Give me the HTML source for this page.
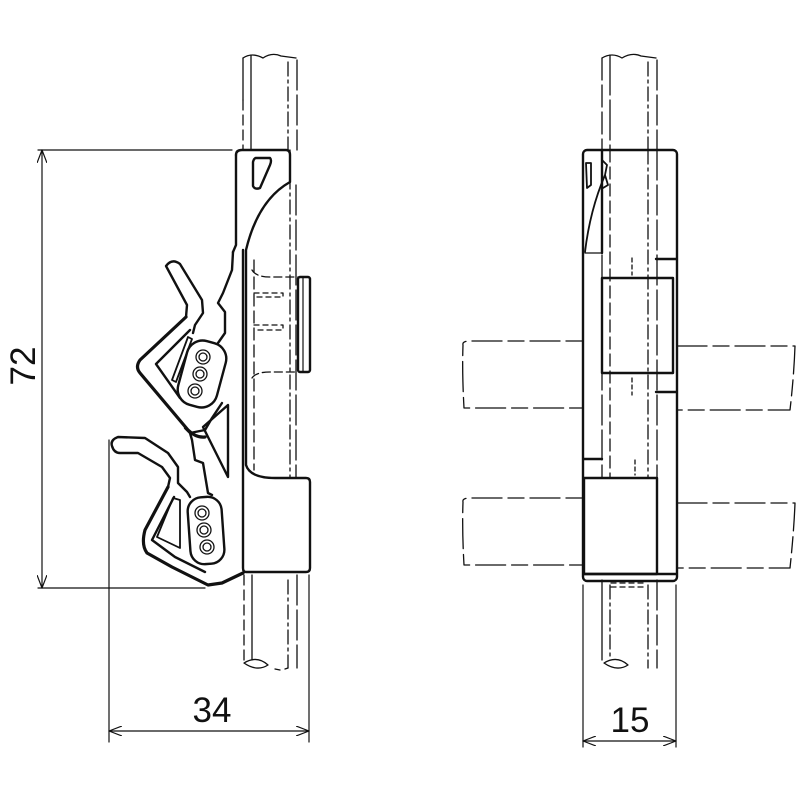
<!DOCTYPE html>
<html><head><meta charset="utf-8"><style>html,body{margin:0;padding:0;background:#fff}svg{display:block}</style></head>
<body>
<svg width="800" height="800" viewBox="0 0 800 800" xmlns="http://www.w3.org/2000/svg" fill="none" stroke="#111" stroke-linecap="round" stroke-linejoin="round">
<defs>
<marker id="ar" markerWidth="14" markerHeight="10" refX="13" refY="5" orient="auto-start-reverse" markerUnits="userSpaceOnUse"><path d="M0,0 L13,5 L0,10" stroke="#111" stroke-width="1.2" fill="none"/></marker>
</defs>
<!-- LEFT RAIL -->
<g stroke-width="1.3">
<path d="M243,58 Q252,52 263,58 Q272,52 281,56 L296,58"/>
<line x1="243" y1="58" x2="243" y2="100"/><line x1="243" y1="100" x2="243" y2="150" stroke-dasharray="10,5"/>
<line x1="251" y1="55" x2="251" y2="150"/>
<line x1="288" y1="62" x2="288" y2="150" stroke-dasharray="14,4,3,4"/>
<line x1="297" y1="60" x2="297" y2="150" stroke-dasharray="30,5"/>
<line x1="244" y1="575" x2="244" y2="660" stroke-dasharray="10,5"/>
<line x1="252" y1="575" x2="252" y2="660"/>
<line x1="288" y1="580" x2="288" y2="668" stroke-dasharray="14,4,3,4"/>
<line x1="297" y1="575" x2="297" y2="668" stroke-dasharray="30,5"/>
<path d="M244,663 Q257,655 268,665 Q257,672 244,663"/>
<path d="M275,669 L280,670 M285,669 L288,668" />
<line x1="254" y1="260" x2="254" y2="470" stroke-dasharray="12,5"/>
<line x1="290" y1="150" x2="290" y2="478" stroke-dasharray="14,4,3,4"/>
<line x1="296" y1="185" x2="296" y2="478" stroke-dasharray="30,5"/>
<path d="M252,270 Q256,277 270,277 L298,277" stroke-dasharray="8,4"/>
<path d="M252,378 Q256,372 270,372 L298,372" stroke-dasharray="8,4"/>
<path d="M254,293 H283 V297 H254 M254,325 H283 V330 H254" stroke-dasharray="5,4"/>
</g>
<!-- LEFT CLIP BODY -->
<g stroke-width="2.4">
<path d="M236,155 Q236,150 242,150 H286 Q290,150 290,155 V182 Q258,200 246,250 L246,465 Q250,478 275,478 H306 Q310,478 310,482 V568 Q310,572 306,572 H246 Q243,572 243,568 L243,250"/>
<path d="M236,155 V245 L233,252"/>
<path d="M256,158 H270 Q272,160 270,165 L260,188 Q255,190 253,186 V162 Q254,158 256,158Z"/>
<rect x="298" y="277" width="12" height="95" rx="2"/>
<line x1="303" y1="278" x2="303" y2="371" stroke-width="1.2"/>
<path d="M233,252 L232,270 L223,293 L218,303 L225,312 L225,333 L218,343"/>
<path d="M222,403 L212,418 L205,430 L190,433"/>
<path d="M193,333 L195,325 L203,313 L202,300 L180,264 Q172,258 166,266 L187,305 L186,317"/>
<path d="M186,317 L140,360 Q135,367 140,373 L188,430 Q196,438 205,437" stroke-width="3.2"/>
<path d="M190,330 L156,364 L180,398"/>
<path d="M188,337 L172,380 L176,382 L192,339 Z" stroke-width="1.8"/>
<rect x="182" y="341" width="40" height="66" rx="16" transform="rotate(15 202 374)"/>
<path d="M203,427 L228,405 L228,477 Z"/>
<path d="M190,433 L185,428 M190,433 L192,440 L195,460 L203,463 L208,493 L212,495"/>
<path d="M190,497 L187,492 L178,483 L178,467 L168,453 L145,438 L118,437 Q110,440 112,446 Q114,453 120,453 L138,453 L162,467 L170,478 L168,487"/>
<path d="M168,487 L145,530 Q141,545 147,553 L172,567 L208,585 L222,583 L243,573" stroke-width="3.2"/>
<path d="M174,497 L152,540 L175,557 L205,572"/>
<path d="M173,498 L157,537 L180,548 L180,500 Z" stroke-width="1.8"/>
<rect x="189" y="497" width="34" height="67" rx="14" transform="rotate(-4 206 530)"/>
</g>
<g stroke-width="1.3">
<circle cx="203" cy="357" r="7"/><circle cx="203" cy="357" r="4"/>
<circle cx="200" cy="374" r="7"/><circle cx="200" cy="374" r="4"/>
<circle cx="195" cy="391" r="7"/><circle cx="195" cy="391" r="4"/>
<circle cx="202" cy="513" r="7"/><circle cx="202" cy="513" r="4"/>
<circle cx="204" cy="530" r="7"/><circle cx="204" cy="530" r="4"/>
<circle cx="207" cy="547" r="7"/><circle cx="207" cy="547" r="4"/>
</g>
<!-- RIGHT RAIL -->
<g stroke-width="1.3">
<path d="M602,58 Q612,52 622,58 Q632,52 641,56 L656,58"/>
<line x1="602" y1="58" x2="602" y2="150" stroke-dasharray="22,5"/>
<line x1="610" y1="55" x2="610" y2="150" stroke-dasharray="40,5"/>
<line x1="648" y1="62" x2="648" y2="150" stroke-dasharray="14,4,3,4"/>
<line x1="657" y1="60" x2="657" y2="150" stroke-dasharray="30,5"/>
<line x1="602" y1="580" x2="602" y2="660"/>
<line x1="610" y1="585" x2="610" y2="660" stroke-dasharray="14,4,3,4"/>
<line x1="648" y1="585" x2="648" y2="668" stroke-dasharray="14,4,3,4"/>
<line x1="657" y1="580" x2="657" y2="668" stroke-dasharray="30,5"/>
<path d="M604,663 Q617,655 628,665 Q617,672 604,663"/>
<line x1="602" y1="150" x2="602" y2="478" stroke-dasharray="30,5"/>
<line x1="610" y1="150" x2="610" y2="478" stroke-dasharray="12,5"/>
<line x1="648" y1="150" x2="648" y2="478" stroke-dasharray="14,4,3,4"/>
<line x1="657" y1="150" x2="657" y2="478" stroke-dasharray="30,5"/>
<path d="M604,150 H660" stroke-dasharray="6,4"/>
<path d="M611,583 H643 V587 H611" stroke-dasharray="5,4"/>
<path d="M632,258 V275 M632,378 V395 M635,460 V475" stroke-dasharray="4,3"/>
<path d="M582,341 H470 Q462,341 463,345 Q462,372 464,408 H582" stroke-dasharray="16,6,30,6"/>
<path d="M677,346 H795 Q794,375 790,410 H677" stroke-dasharray="30,6,16,6"/>
<path d="M582,498 H470 Q462,498 463,502 Q462,530 464,565 H582" stroke-dasharray="16,6,30,6"/>
<path d="M677,503 H795 Q794,530 790,568 H677" stroke-dasharray="30,6,16,6"/>
</g>
<!-- RIGHT CLIP BODY -->
<g stroke-width="2.4">
<rect x="583" y="150" width="94" height="431" rx="4"/>
<rect x="602" y="278" width="71" height="95"/>
<rect x="584" y="478" width="73" height="96"/>
<line x1="584" y1="574" x2="676" y2="574"/>
<line x1="602" y1="150" x2="602" y2="253"/>
<path d="M586,163 H591 V185 L587,188 Z" stroke-width="1.8"/>
<path d="M585,252 Q590,210 605,175 L607,165 L602,160 M605,175 L608,185 L603,188" stroke-width="1.8"/>
<line x1="585" y1="253" x2="602" y2="253" stroke-width="1.2"/>
<line x1="656" y1="259" x2="676" y2="259"/>
<line x1="656" y1="392" x2="676" y2="392"/>
<line x1="584" y1="459" x2="602" y2="459"/>
</g>
<!-- DIMENSIONS -->
<g stroke-width="1.2">
<line x1="38" y1="150" x2="232" y2="150"/>
<line x1="38" y1="588" x2="205" y2="588"/>
<line x1="42" y1="150" x2="42" y2="588" marker-start="url(#ar)" marker-end="url(#ar)"/>
<line x1="109" y1="440" x2="109" y2="742"/>
<line x1="309" y1="575" x2="309" y2="742"/>
<line x1="109" y1="731" x2="309" y2="731" marker-start="url(#ar)" marker-end="url(#ar)"/>
<line x1="583" y1="585" x2="583" y2="747"/>
<line x1="676" y1="585" x2="676" y2="747"/>
<line x1="583" y1="741" x2="676" y2="741" marker-start="url(#ar)" marker-end="url(#ar)"/>
</g>
<g fill="#111" stroke="none" font-family="'Liberation Sans', sans-serif" font-size="35">
<text x="212" y="722" text-anchor="middle">34</text>
<text x="630" y="732" text-anchor="middle">15</text>
<text transform="translate(35,366) rotate(-90)" text-anchor="middle">72</text>
</g>
</svg>
</body></html>
